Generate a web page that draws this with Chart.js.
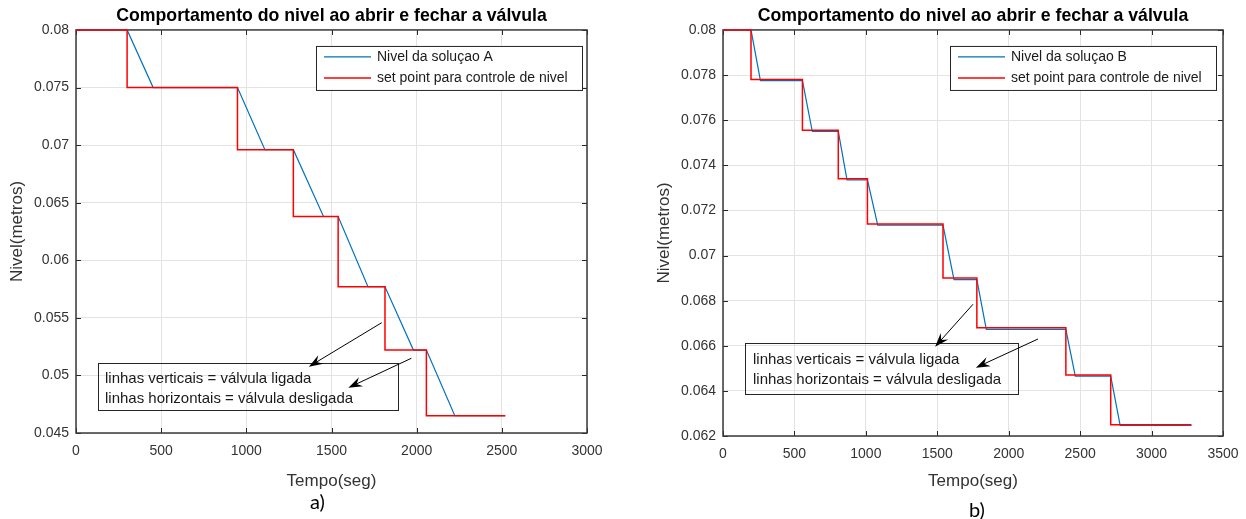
<!DOCTYPE html>
<html>
<head>
<meta charset="utf-8">
<script src="https://cdn.jsdelivr.net/npm/chart.js@4.4.1/dist/chart.umd.min.js"></script>
<style>
  html, body { margin: 0; padding: 0; background: #fff; }
  body { width: 1246px; height: 519px; position: relative; overflow: hidden; }
  .box { position: absolute; top: 0; height: 500px; }
  #boxA { left: 0; width: 620px; }
  #boxB { left: 647px; width: 599px; }
  .sub { position: absolute; font-family: Lato, "Open Sans", sans-serif; font-size: 20px; line-height: 24px; color: #000; }
</style>
</head>
<body>
<div id="boxA" class="box"><canvas id="chartA"></canvas></div>
<div id="boxB" class="box"><canvas id="chartB"></canvas></div>
<div class="sub" style="left:310px; top:489px">a)</div>
<div class="sub" style="left:969px; top:497px">b)</div>
<script>
(function () {
  "use strict";

  var titulo = "Comportamento do nivel ao abrir e fechar a válvula";
  var tituloX = "Tempo(seg)";
  var tituloY = "Nivel(metros)";
  var nomeSet = "set point para controle de nivel";
  var nota = ["linhas verticais = válvula ligada", "linhas horizontais = válvula desligada"];

  /* a) solucao A */
  var tempoSetA = [0, 300, 948, 1276, 1539, 1814, 2057, 2520];
  var setPointA = [0.08, 0.075, 0.0696, 0.0638, 0.0577, 0.0522, 0.0465, 0.0465];
  var tempoNivelA = [0, 300, 453, 948, 1109, 1276, 1453, 1539, 1714, 1814, 1981, 2057, 2224, 2520];
  var nivelA = [0.08, 0.08, 0.075, 0.075, 0.0696, 0.0696, 0.0638, 0.0638, 0.0577, 0.0577, 0.0522, 0.0522, 0.0465, 0.0465];
  var ticksXA = [0, 500, 1000, 1500, 2000, 2500, 3000];
  var ticksYA = [0.045, 0.05, 0.055, 0.06, 0.065, 0.07, 0.075, 0.08];

  /* b) solucao B */
  var tempoSetB = [0, 196, 556, 807, 1011, 1540, 1777, 2400, 2714, 3279];
  var setPointB = [0.08, 0.0778, 0.07555, 0.0734, 0.0714, 0.069, 0.0668, 0.0647, 0.0625, 0.0625];
  var tempoNivelB = [0, 196, 262, 556, 625, 807, 868, 1011, 1083, 1540, 1617, 1777, 1843, 2400, 2466, 2714, 2780, 3279];
  var nivelB = [0.08, 0.08, 0.07775, 0.07775, 0.0755, 0.0755, 0.07335, 0.07335, 0.07135, 0.07135, 0.06893, 0.06893, 0.06673, 0.06673, 0.06465, 0.06465, 0.06247, 0.06247];
  var ticksXB = [0, 500, 1000, 1500, 2000, 2500, 3000, 3500];
  var ticksYB = [0.062, 0.064, 0.066, 0.068, 0.07, 0.072, 0.074, 0.076, 0.078, 0.08];

  var fonte = '"Liberation Sans", Arial, sans-serif';
  Chart.defaults.font.family = fonte;

  function pontos(xs, ys) {
    return xs.map(function (x, i) { return { x: x, y: ys[i] }; });
  }

  function seta(ctx, x1, y1, x2, y2) {
    var ang = Math.atan2(y2 - y1, x2 - x1), L = 14, W = 5;
    ctx.strokeStyle = "#000";
    ctx.lineWidth = 1;
    ctx.beginPath();
    ctx.moveTo(x1, y1);
    ctx.lineTo(x2 - 8 * Math.cos(ang), y2 - 8 * Math.sin(ang));
    ctx.stroke();
    ctx.save();
    ctx.translate(x2, y2);
    ctx.rotate(ang);
    ctx.beginPath();
    ctx.moveTo(0, 0);
    ctx.lineTo(-L, -W);
    ctx.lineTo(-L * 0.65, 0);
    ctx.lineTo(-L, W);
    ctx.closePath();
    ctx.fillStyle = "#000";
    ctx.fill();
    ctx.restore();
  }

  // caixa dos eixos e marcas para dentro, estilo matlab
  var moldura = {
    id: "moldura",
    beforeDatasetsDraw: function (chart) {
      var a = chart.chartArea, ctx = chart.ctx, sx = chart.scales.x, sy = chart.scales.y;
      ctx.save();
      ctx.strokeStyle = "#262626";
      ctx.lineWidth = 1;
      ctx.beginPath();
      sx.ticks.forEach(function (t) {
        var p = Math.round(sx.getPixelForValue(t.value)) + 0.5;
        ctx.moveTo(p, a.bottom); ctx.lineTo(p, a.bottom - 5);
        ctx.moveTo(p, a.top); ctx.lineTo(p, a.top + 5);
      });
      sy.ticks.forEach(function (t) {
        var p = Math.round(sy.getPixelForValue(t.value)) + 0.5;
        ctx.moveTo(a.left, p); ctx.lineTo(a.left + 5, p);
        ctx.moveTo(a.right, p); ctx.lineTo(a.right - 5, p);
      });
      ctx.stroke();
      ctx.lineWidth = 1.5;
      ctx.strokeStyle = "#3a3a3a";
      ctx.strokeRect(a.left, a.top, a.right - a.left, a.bottom - a.top);
      ctx.restore();
    }
  };

  var legendaMatlab = {
    id: "legendaMatlab",
    afterDraw: function (chart, args, opts) {
      var ctx = chart.ctx, a = chart.chartArea, ds = chart.data.datasets;
      ctx.save();
      ctx.font = "14px " + fonte;
      var larg = 0;
      ds.forEach(function (d) { larg = Math.max(larg, ctx.measureText(d.label).width); });
      var w = Math.round(8 + 47 + 6 + larg + 14), h = 44;
      var x0 = Math.round(a.right - opts.direita - w), y0 = a.top + 16;
      ctx.fillStyle = "#fff";
      ctx.fillRect(x0, y0, w, h);
      ctx.strokeStyle = "#262626";
      ctx.lineWidth = 1;
      ctx.strokeRect(x0 + 0.5, y0 + 0.5, w, h);
      ds.forEach(function (d, i) {
        var y = y0 + 11 + i * 21;
        ctx.strokeStyle = d.borderColor;
        ctx.lineWidth = d.borderWidth;
        ctx.beginPath();
        ctx.moveTo(x0 + 8, y);
        ctx.lineTo(x0 + 55, y);
        ctx.stroke();
        ctx.fillStyle = "#1a1a1a";
        ctx.textBaseline = "middle";
        ctx.fillText(d.label, x0 + 61, y);
      });
      ctx.restore();
    }
  };

  var notas = {
    id: "notas",
    afterDraw: function (chart, args, opts) {
      var ctx = chart.ctx, sx = chart.scales.x, sy = chart.scales.y;
      ctx.save();
      var x0 = Math.round(sx.getPixelForValue(opts.caixa.x)), y0 = Math.round(sy.getPixelForValue(opts.caixa.y));
      ctx.strokeStyle = "#262626";
      ctx.lineWidth = 1;
      ctx.strokeRect(x0 + 0.5, y0 + 0.5, opts.caixa.w, opts.caixa.h);
      ctx.fillStyle = "#1a1a1a";
      ctx.font = "15px " + fonte;
      ctx.textBaseline = "middle";
      nota.forEach(function (linha, i) {
        ctx.fillText(linha, x0 + opts.caixa.dx, y0 + opts.caixa.dy + i * 20);
      });
      opts.setas.forEach(function (s) {
        seta(ctx, sx.getPixelForValue(s[0]), sy.getPixelForValue(s[1]),
          sx.getPixelForValue(s[2]), sy.getPixelForValue(s[3]));
      });
      ctx.restore();
    }
  };

  function criaGrafico(id, c) {
    return new Chart(document.getElementById(id), {
      type: "line",
      data: {
        datasets: [
          {
            label: c.nomeNivel,
            data: pontos(c.tempoNivel, c.nivel),
            borderColor: "#0072bd",
            borderWidth: 1.2,
            pointRadius: 0,
            order: 1,
            clip: 4,
          },
          {
            label: nomeSet,
            data: pontos(c.tempoSet, c.setPoint),
            borderColor: "#ff0000",
            borderWidth: 1.5,
            pointRadius: 0,
            stepped: "before",
            order: 0,
            clip: 4,
          },
        ],
      },
      options: {
        responsive: true,
        maintainAspectRatio: false,
        animation: false,
        events: [],
        layout: { padding: { left: 0, right: c.padDir, top: 0, bottom: 0 } },
        plugins: {
          legend: { display: false },
          tooltip: { enabled: false },
          title: {
            display: true,
            text: titulo,
            fullSize: false,
            color: "#000",
            font: { size: 17.7, weight: "bold", lineHeight: 1.15 },
            padding: { top: 6, bottom: 3.6 },
          },
          legendaMatlab: { direita: c.legDir },
          notas: { caixa: c.caixa, setas: c.setas },
        },
        scales: {
          x: {
            type: "linear",
            min: c.ticksX[0],
            max: c.ticksX[c.ticksX.length - 1],
            afterBuildTicks: function (s) { s.ticks = c.ticksX.map(function (v) { return { value: v }; }); },
            afterFit: function (s) { s.height = c.altX; s.paddingLeft = 0; s.paddingRight = 0; },
            grid: { color: "#e3e3e3", drawTicks: false },
            border: { display: false },
            ticks: {
              color: "#333",
              font: { size: 14 },
              padding: 10,
              maxRotation: 0,
              autoSkip: false,
              callback: function (v) { return String(v); },
            },
            title: { display: true, text: tituloX, color: "#333", font: { size: 17 }, padding: { top: 0, bottom: 8 } },
          },
          y: {
            type: "linear",
            min: c.ticksY[0],
            max: c.ticksY[c.ticksY.length - 1],
            afterBuildTicks: function (s) { s.ticks = c.ticksY.map(function (v) { return { value: v }; }); },
            afterFit: function (s) { s.width = 76; s.paddingTop = 0; s.paddingBottom = 0; },
            grid: { color: "#e3e3e3", drawTicks: false },
            border: { display: false },
            ticks: {
              color: "#333",
              font: { size: 14 },
              padding: 7,
              autoSkip: false,
              callback: function (v) { return String(parseFloat(v.toFixed(4))); },
            },
            title: { display: true, text: tituloY, color: "#333", font: { size: 17 }, padding: { top: 7.4, bottom: 0 } },
          },
        },
      },
      plugins: [moldura, legendaMatlab, notas],
    });
  }

  criaGrafico("chartA", {
    nomeNivel: "Nivel da soluçao A",
    tempoSet: tempoSetA, setPoint: setPointA,
    tempoNivel: tempoNivelA, nivel: nivelA,
    ticksX: ticksXA, ticksY: ticksYA,
    padDir: 33, altX: 67, legDir: 5,
    caixa: { x: 128, y: 0.0511, w: 300, h: 47, dx: 7, dy: 15.5 },
    setas: [[1795, 0.05458, 1367, 0.05076], [1969, 0.05149, 1599, 0.04893]],
  });

  criaGrafico("chartB", {
    nomeNivel: "Nivel da soluçao B",
    tempoSet: tempoSetB, setPoint: setPointB,
    tempoNivel: tempoNivelB, nivel: nivelB,
    ticksX: ticksXB, ticksY: ticksYB,
    padDir: 23, altX: 64, legDir: 7,
    caixa: { x: 152, y: 0.06614, w: 273, h: 51, dx: 8, dy: 16.5 },
    setas: [[1750, 0.06784, 1485, 0.06596], [2205, 0.0663, 1770, 0.06503]],
  });
})();
</script>
</body>
</html>
